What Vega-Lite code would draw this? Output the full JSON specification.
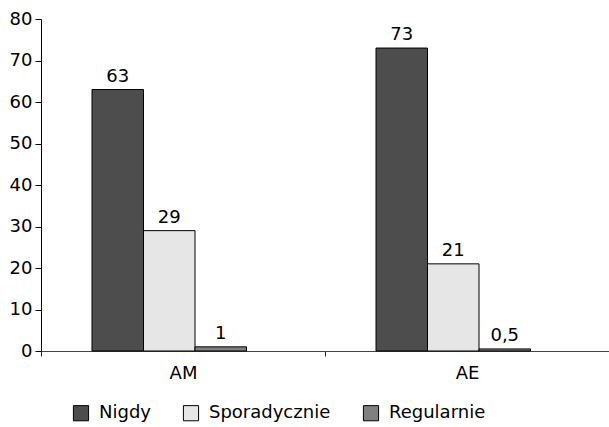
{
  "$schema": "https://vega.github.io/schema/vega-lite/v6.json",
  "width": 568,
  "height": 332,
  "autosize": {"type": "none"},
  "padding": {"left": 41, "top": 19, "right": 0, "bottom": 76},
  "background": "white",
  "config": {
    "view": {"stroke": null},
    "font": "DejaVu Sans",
    "axis": {"labelFont": "DejaVu Sans", "labelFontSize": 18, "labelColor": "black", "domainColor": "black", "tickColor": "black", "grid": false, "title": null}
  },
  "data": {
    "values": [
      {"grupa": "AM", "odp": "Nigdy", "wartosc": 63, "etykieta": "63"},
      {"grupa": "AM", "odp": "Sporadycznie", "wartosc": 29, "etykieta": "29"},
      {"grupa": "AM", "odp": "Regularnie", "wartosc": 1, "etykieta": "1"},
      {"grupa": "AE", "odp": "Nigdy", "wartosc": 73, "etykieta": "73"},
      {"grupa": "AE", "odp": "Sporadycznie", "wartosc": 21, "etykieta": "21"},
      {"grupa": "AE", "odp": "Regularnie", "wartosc": 0.5, "etykieta": "0,5"}
    ]
  },
  "encoding": {
    "x": {
      "field": "grupa", "type": "nominal", "sort": ["AM", "AE"],
      "scale": {"paddingInner": 0, "paddingOuter": 0},
      "axis": {"labelAngle": 0, "tickBand": "extent", "tickSize": 5, "labelPadding": 8, "domainWidth": 1, "domainColor": "#444444", "tickColor": "#222222"}
    },
    "xOffset": {
      "field": "odp", "type": "nominal", "sort": ["Nigdy", "Sporadycznie", "Regularnie"],
      "scale": {"paddingInner": 0, "paddingOuter": 0, "range": [51, 205.5]}
    },
    "y": {
      "field": "wartosc", "type": "quantitative",
      "scale": {"domain": [0, 80]},
      "axis": {"values": [0, 10, 20, 30, 40, 50, 60, 70, 80], "tickSize": 6, "labelPadding": 3, "domainWidth": 1}
    }
  },
  "layer": [
    {
      "mark": {"type": "bar", "stroke": "black", "strokeWidth": 1},
      "encoding": {
        "color": {
          "field": "odp", "type": "nominal", "sort": ["Nigdy", "Sporadycznie", "Regularnie"],
          "scale": {"domain": ["Nigdy", "Sporadycznie", "Regularnie"], "range": ["#4d4d4d", "#e6e6e6", "#808080"]},
          "legend": {
            "title": null, "orient": "none", "direction": "horizontal",
            "legendX": 31, "legendY": 385,
            "symbolType": "square", "symbolSize": 230, "symbolStrokeColor": "black", "symbolStrokeWidth": 1,
            "labelFontSize": 18, "labelFont": "DejaVu Sans", "labelColor": "black",
            "columnPadding": 30, "labelOffset": 9
          }
        }
      }
    },
    {
      "mark": {"type": "text", "dy": -13, "fontSize": 18, "font": "DejaVu Sans", "color": "black"},
      "encoding": {"text": {"field": "etykieta"}}
    }
  ]
}
